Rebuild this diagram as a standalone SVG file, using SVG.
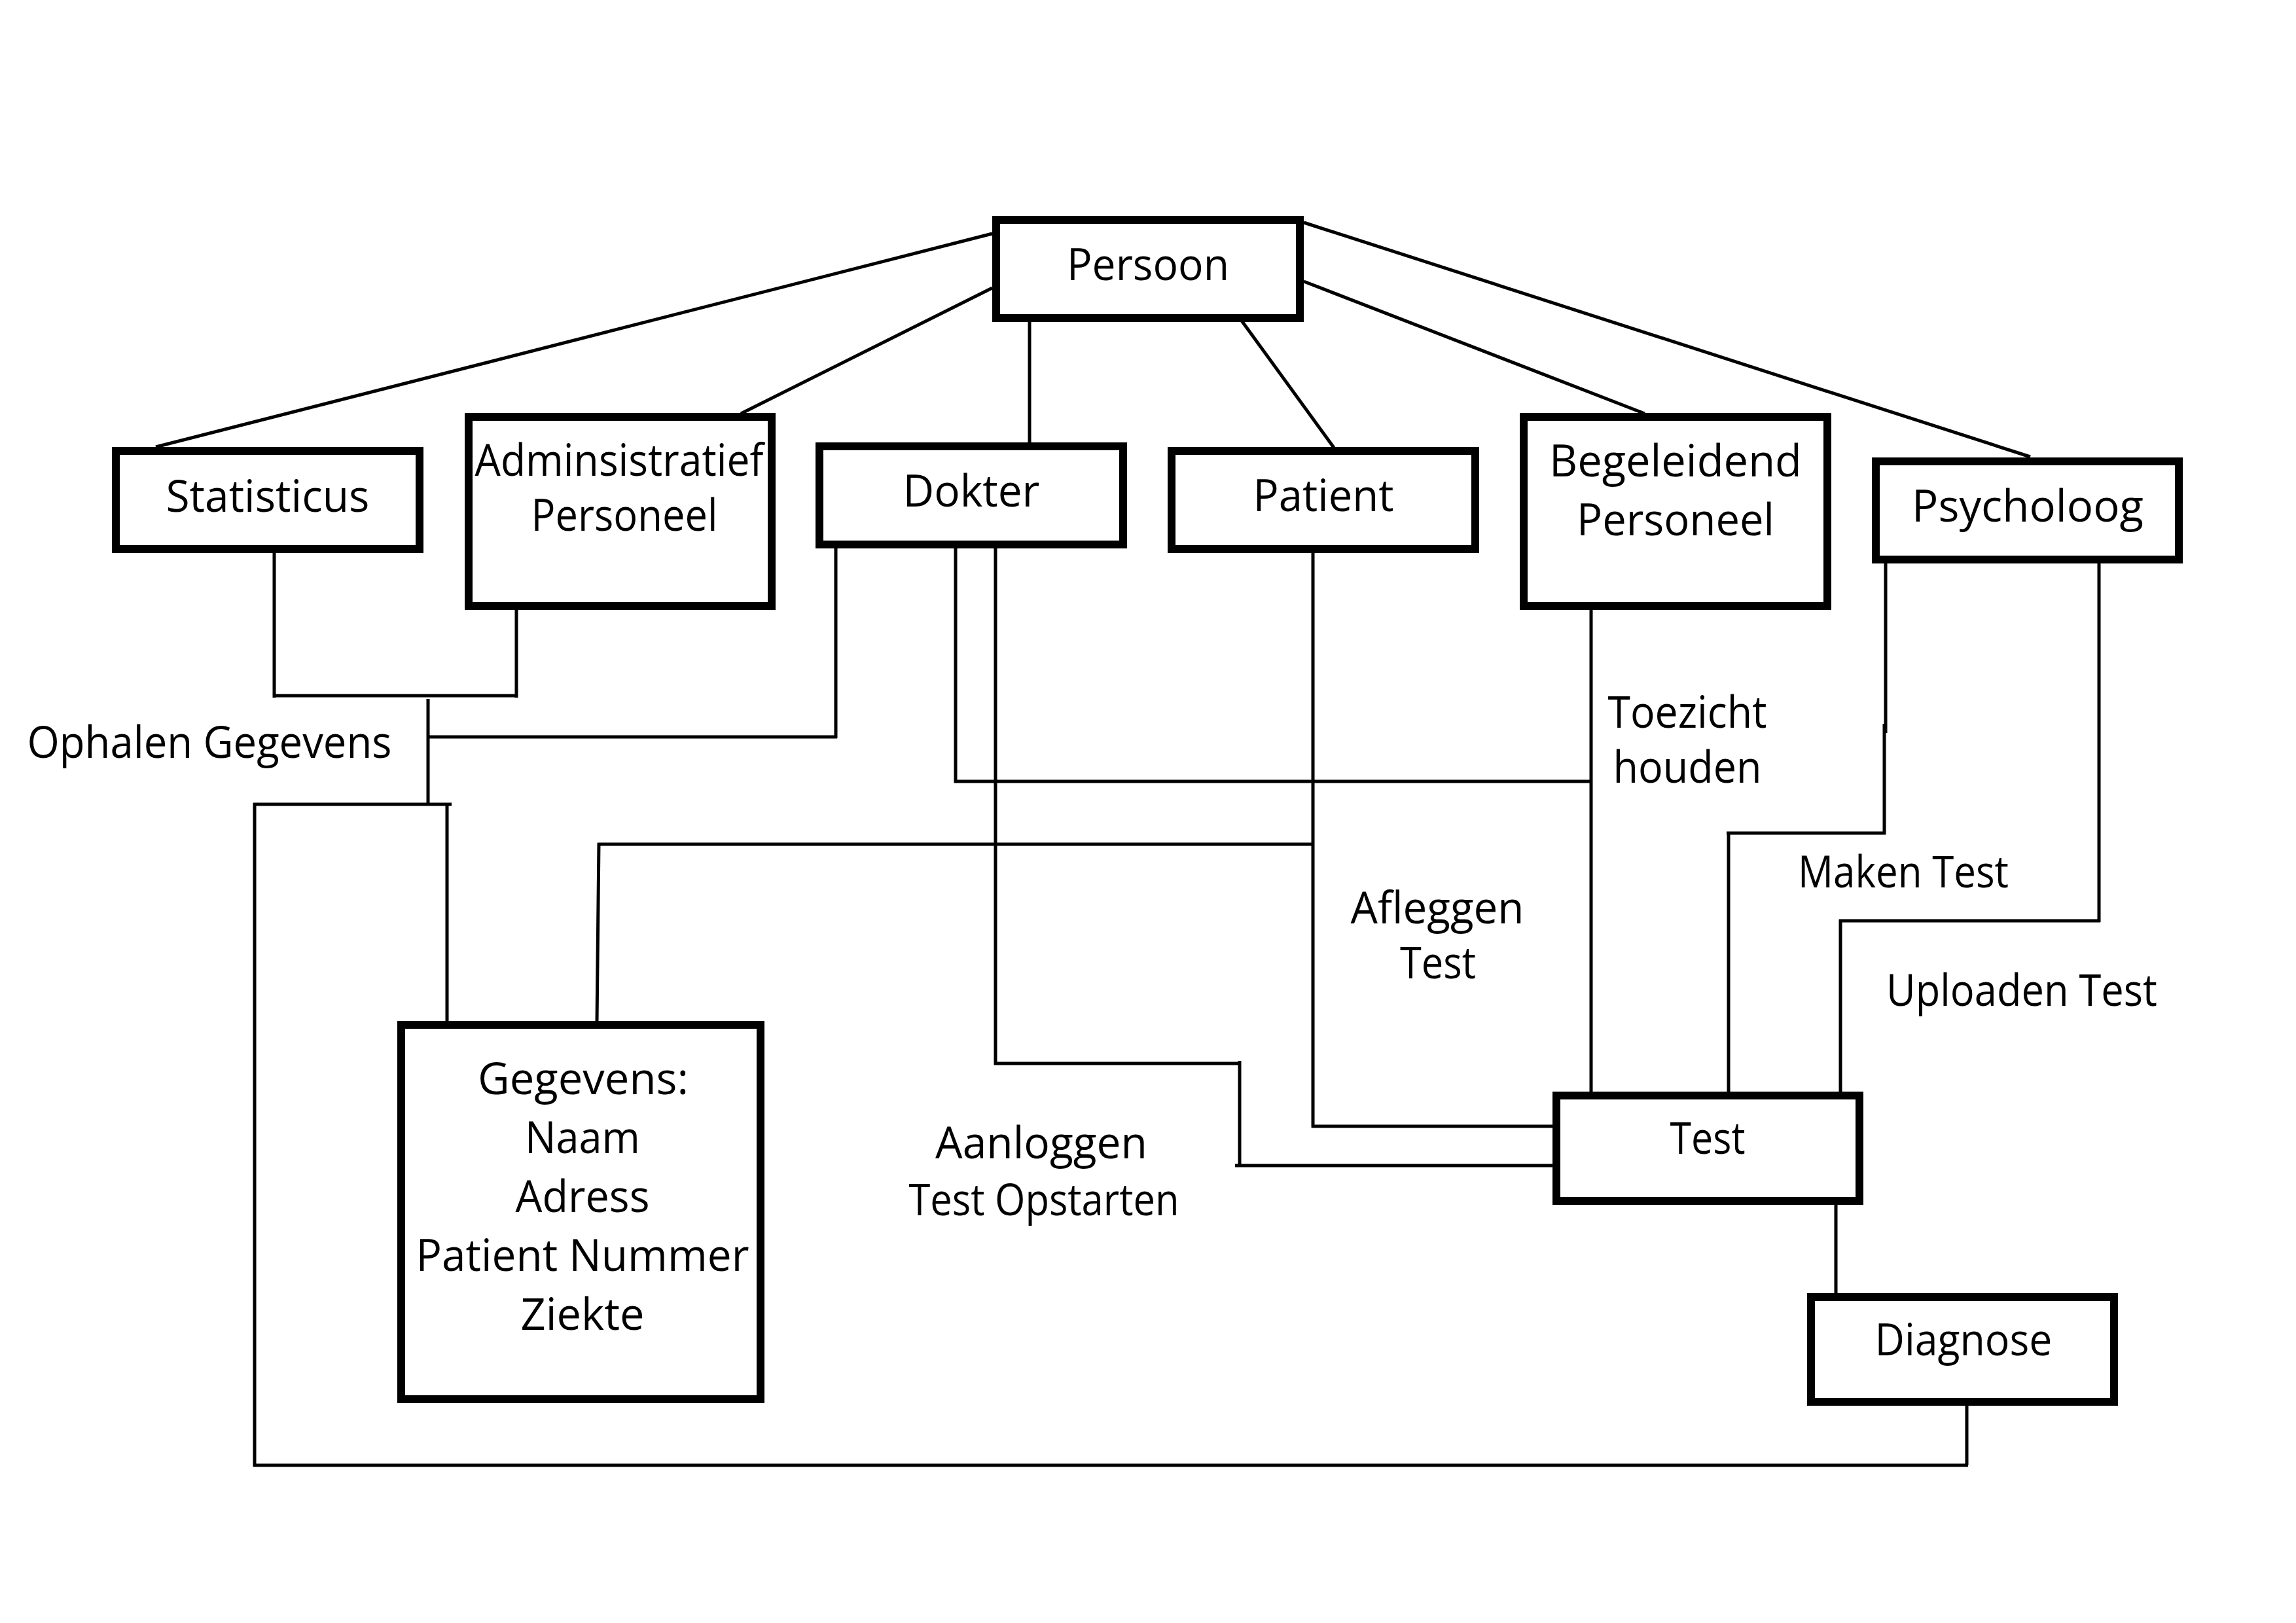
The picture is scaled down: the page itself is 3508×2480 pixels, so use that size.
<svg xmlns="http://www.w3.org/2000/svg" width="3508" height="2480" viewBox="0 0 3508 2480">
<style>
.box{fill:#fff;stroke:#000;stroke-width:12}
.ln{stroke:#000;stroke-width:5;fill:none;stroke-linecap:butt}
.t{font-family:"Open Sans","Noto Sans",sans-serif;font-size:67px;fill:#000;text-anchor:middle}
</style>
<rect width="3508" height="2480" fill="#fff"/>
<g id="connectors">
<line class="ln" x1="1516" y1="357" x2="238" y2="683"/>
<line class="ln" x1="1516" y1="440" x2="1132" y2="632"/>
<line class="ln" x1="1573" y1="490" x2="1573" y2="677"/>
<line class="ln" x1="1897" y1="490" x2="2038" y2="684"/>
<line class="ln" x1="1992" y1="430" x2="2513" y2="632"/>
<line class="ln" x1="1992" y1="340" x2="3102" y2="698"/>
<line class="ln" x1="419" y1="845" x2="419" y2="1066"/>
<line class="ln" x1="789" y1="932" x2="789" y2="1066"/>
<line class="ln" x1="417" y1="1063" x2="791" y2="1063"/>
<line class="ln" x1="654" y1="1068" x2="654" y2="1229"/>
<line class="ln" x1="654" y1="1126" x2="1279" y2="1126"/>
<line class="ln" x1="1277" y1="838" x2="1277" y2="1128"/>
<line class="ln" x1="387" y1="1229" x2="690" y2="1229"/>
<line class="ln" x1="683" y1="1229" x2="683" y2="1562"/>
<line class="ln" x1="389" y1="1227" x2="389" y2="2241"/>
<line class="ln" x1="387" y1="2239" x2="3007" y2="2239"/>
<line class="ln" x1="3005" y1="2132" x2="3005" y2="2239"/>
<line class="ln" x1="915" y1="1288" x2="912" y2="1562"/>
<line class="ln" x1="913" y1="1290" x2="2008" y2="1290"/>
<line class="ln" x1="2006" y1="845" x2="2006" y2="1723"/>
<line class="ln" x1="2004" y1="1721" x2="2387" y2="1721"/>
<line class="ln" x1="1460" y1="838" x2="1460" y2="1196"/>
<line class="ln" x1="1458" y1="1194" x2="2433" y2="1194"/>
<line class="ln" x1="2431" y1="932" x2="2431" y2="1670"/>
<line class="ln" x1="1521" y1="838" x2="1521" y2="1627"/>
<line class="ln" x1="1519" y1="1625" x2="1896" y2="1625"/>
<line class="ln" x1="1894" y1="1621" x2="1894" y2="1783"/>
<line class="ln" x1="1887" y1="1781" x2="2380" y2="1781"/>
<line class="ln" x1="2881" y1="861" x2="2881" y2="1120"/>
<line class="ln" x1="2879" y1="1106" x2="2879" y2="1275"/>
<line class="ln" x1="2638" y1="1273" x2="2881" y2="1273"/>
<line class="ln" x1="2641" y1="1271" x2="2641" y2="1670"/>
<line class="ln" x1="3207" y1="861" x2="3207" y2="1409"/>
<line class="ln" x1="2810" y1="1407" x2="3209" y2="1407"/>
<line class="ln" x1="2812" y1="1405" x2="2812" y2="1670"/>
<line class="ln" x1="2805" y1="1841" x2="2805" y2="1978"/>
</g>
<g id="labels">
<text class="t" x="320" y="1158" textLength="557" lengthAdjust="spacingAndGlyphs">Ophalen Gegevens</text>
<text class="t" x="2578" y="1112" textLength="243" lengthAdjust="spacingAndGlyphs">Toezicht</text>
<text class="t" x="2578" y="1196" textLength="227" lengthAdjust="spacingAndGlyphs">houden</text>
<text class="t" x="2908" y="1356" textLength="322" lengthAdjust="spacingAndGlyphs">Maken Test</text>
<text class="t" x="3089" y="1537" textLength="414" lengthAdjust="spacingAndGlyphs">Uploaden Test</text>
<text class="t" x="2196" y="1411" textLength="265" lengthAdjust="spacingAndGlyphs">Afleggen</text>
<text class="t" x="2197" y="1495" textLength="116" lengthAdjust="spacingAndGlyphs">Test</text>
<text class="t" x="1591" y="1770" textLength="324" lengthAdjust="spacingAndGlyphs">Aanloggen</text>
<text class="t" x="1595" y="1857" textLength="413" lengthAdjust="spacingAndGlyphs">Test Opstarten</text>
</g>
<g id="persoon"><rect class="box" x="1522" y="336" width="464" height="150"/><text class="t" x="1754" y="428" textLength="248" lengthAdjust="spacingAndGlyphs">Persoon</text></g>
<g id="statisticus"><rect class="box" x="177" y="689" width="464" height="150"/><text class="t" x="409" y="782" textLength="311" lengthAdjust="spacingAndGlyphs">Statisticus</text></g>
<g id="administratief"><rect class="box" x="716" y="637" width="463" height="289"/><text class="t" x="946" y="727" textLength="441" lengthAdjust="spacingAndGlyphs">Adminsistratief</text><text class="t" x="954" y="811" textLength="285" lengthAdjust="spacingAndGlyphs">Personeel</text></g>
<g id="dokter"><rect class="box" x="1252" y="682" width="464" height="150"/><text class="t" x="1484" y="774" textLength="209" lengthAdjust="spacingAndGlyphs">Dokter</text></g>
<g id="patient"><rect class="box" x="1790" y="689" width="464" height="150"/><text class="t" x="2022" y="781" textLength="215" lengthAdjust="spacingAndGlyphs">Patient</text></g>
<g id="begeleidend"><rect class="box" x="2328" y="637" width="464" height="289"/><text class="t" x="2560" y="728" textLength="386" lengthAdjust="spacingAndGlyphs">Begeleidend</text><text class="t" x="2560" y="818" textLength="302" lengthAdjust="spacingAndGlyphs">Personeel</text></g>
<g id="psycholoog"><rect class="box" x="2866" y="705" width="463" height="150"/><text class="t" x="3098" y="797" textLength="354" lengthAdjust="spacingAndGlyphs">Psycholoog</text></g>
<g id="gegevens"><rect class="box" x="613" y="1566" width="549" height="572"/>
<text class="t" x="891" y="1672" textLength="322" lengthAdjust="spacingAndGlyphs">Gegevens:</text>
<text class="t" x="890" y="1762" textLength="176" lengthAdjust="spacingAndGlyphs">Naam</text>
<text class="t" x="890" y="1852" textLength="205" lengthAdjust="spacingAndGlyphs">Adress</text>
<text class="t" x="890" y="1942" textLength="509" lengthAdjust="spacingAndGlyphs">Patient Nummer</text>
<text class="t" x="890" y="2032" textLength="189" lengthAdjust="spacingAndGlyphs">Ziekte</text></g>
<g id="test"><rect class="box" x="2378" y="1674" width="463" height="161"/><text class="t" x="2609" y="1763" textLength="115" lengthAdjust="spacingAndGlyphs">Test</text></g>
<g id="diagnose"><rect class="box" x="2767" y="1982" width="463" height="160"/><text class="t" x="3000" y="2071" textLength="271" lengthAdjust="spacingAndGlyphs">Diagnose</text></g>
</svg>
